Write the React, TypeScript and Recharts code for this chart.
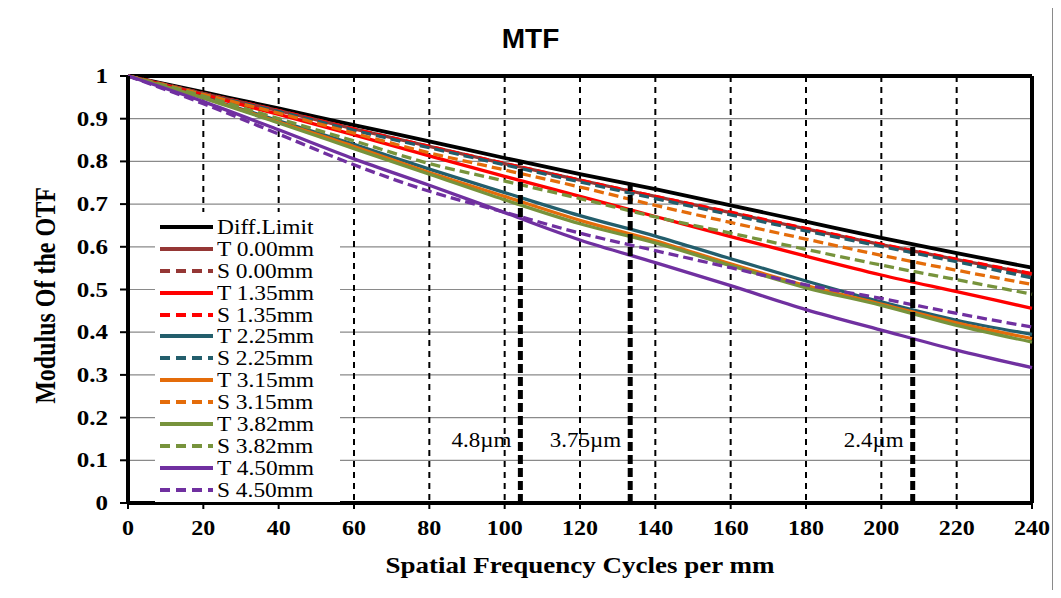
import React from 'react';
import {
  LineChart,
  Line,
  XAxis,
  YAxis,
  CartesianGrid,
  ReferenceLine,
  ReferenceDot,
  Legend,
} from 'recharts';

// ---- data ----
const frequency = [0, 20, 40, 60, 80, 100, 120, 140, 160, 180, 200, 220, 240];
const diffLimit = [1, 0.962, 0.924, 0.885, 0.847, 0.808, 0.770, 0.735, 0.697, 0.659, 0.621, 0.585, 0.551];
const t000 = [1, 0.959, 0.919, 0.876, 0.835, 0.795, 0.756, 0.718, 0.680, 0.642, 0.605, 0.570, 0.536];
const s000 = [1, 0.959, 0.918, 0.875, 0.834, 0.794, 0.755, 0.716, 0.678, 0.640, 0.603, 0.568, 0.533];
const t135 = [1, 0.956, 0.910, 0.862, 0.813, 0.765, 0.718, 0.671, 0.624, 0.578, 0.534, 0.495, 0.456];
const s135 = [1, 0.959, 0.919, 0.876, 0.835, 0.795, 0.756, 0.718, 0.681, 0.643, 0.606, 0.571, 0.537];
const t225 = [1, 0.950, 0.895, 0.840, 0.782, 0.727, 0.673, 0.625, 0.572, 0.520, 0.471, 0.428, 0.395];
const s225 = [1, 0.958, 0.917, 0.873, 0.832, 0.792, 0.752, 0.713, 0.675, 0.637, 0.601, 0.565, 0.527];
const t315 = [1, 0.949, 0.892, 0.835, 0.774, 0.718, 0.662, 0.614, 0.560, 0.509, 0.466, 0.422, 0.385];
const s315 = [1, 0.957, 0.913, 0.866, 0.820, 0.780, 0.740, 0.697, 0.657, 0.618, 0.580, 0.545, 0.512];
const t382 = [1, 0.948, 0.890, 0.830, 0.770, 0.710, 0.654, 0.609, 0.556, 0.504, 0.463, 0.416, 0.377];
const s382 = [1, 0.953, 0.900, 0.848, 0.795, 0.754, 0.713, 0.670, 0.632, 0.594, 0.557, 0.523, 0.489];
const t450 = [1, 0.940, 0.874, 0.806, 0.744, 0.680, 0.616, 0.563, 0.509, 0.453, 0.405, 0.358, 0.317];
const s450 = [1, 0.935, 0.864, 0.792, 0.730, 0.681, 0.632, 0.591, 0.551, 0.511, 0.479, 0.444, 0.412];

const seriesNames = [
  'Diff.Limit', 'T 0.00mm', 'S 0.00mm', 'T 1.35mm', 'S 1.35mm', 'T 2.25mm', 'S 2.25mm',
  'T 3.15mm', 'S 3.15mm', 'T 3.82mm', 'S 3.82mm', 'T 4.50mm', 'S 4.50mm',
];
const seriesValues = [diffLimit, t000, s000, t135, s135, t225, s225, t315, s315, t382, s382, t450, s450];

const xTicks = [0, 20, 40, 60, 80, 100, 120, 140, 160, 180, 200, 220, 240];
const yTicks = [0, 0.1, 0.2, 0.3, 0.4, 0.5, 0.6, 0.7, 0.8, 0.9, 1];

// Nyquist frequencies for pixel sizes
const nyquistLabels = ['4.8µm', '3.75µm', '2.4µm'];
const nyquistFreq = [104.17, 133.33, 208.33];
const nyquistTop = [0.801, 0.745, 0.607];
const nyquistLabelLevel = 0.147;

// ---- styles ----
const seriesColors = [
  '#000000', '#953735', '#953735', '#FF0000', '#FF0000', '#235E6C', '#235E6C',
  '#E46C0A', '#E46C0A', '#77933C', '#77933C', '#7030A0', '#7030A0',
];
const seriesDashed = [false, false, true, false, true, false, true, false, true, false, true, false, true];

const chartData = frequency.map((f, i) => {
  const row: Record<string, number> = { f };
  seriesNames.forEach((n, k) => {
    row[n] = seriesValues[k][i];
  });
  return row;
});

const SERIF = '"Liberation Serif", "Times New Roman", serif';

const XTick = (props: any) => {
  const { x, y, payload } = props;
  return (
    <g transform={`translate(${x},${y})`}>
      <text transform="scale(1.2,1)" textAnchor="middle" dy={24} fontFamily={SERIF} fontWeight="bold" fontSize={20} fill="#000">
        {payload.value}
      </text>
    </g>
  );
};

const YTick = (props: any) => {
  const { x, y, payload } = props;
  return (
    <g transform={`translate(${x},${y})`}>
      <text transform="scale(1.25,1)" textAnchor="end" dy={7} fontFamily={SERIF} fontWeight="bold" fontSize={20} fill="#000">
        {String(payload.value)}
      </text>
    </g>
  );
};

const XTitle = (props: any) => {
  const vb = props.viewBox || {};
  const cx = vb.x + vb.width / 2;
  const cy = vb.y + 70;
  return (
    <g transform={`translate(${cx},${cy})`}>
      <text transform="scale(1.2,1)" textAnchor="middle" fontFamily={SERIF} fontWeight="bold" fontSize={22.5} fill="#000">
        Spatial Frequency Cycles per mm
      </text>
    </g>
  );
};

const YTitle = (props: any) => {
  const vb = props.viewBox || {};
  const cx = vb.x + 17;
  const cy = vb.y + vb.height / 2 + 6;
  return (
    <g transform={`translate(${cx},${cy}) rotate(-90) scale(1,1.2)`}>
      <text textAnchor="middle" dominantBaseline="central" fontFamily={SERIF} fontWeight="bold" fontSize={24} fill="#000">
        Modulus Of the OTF
      </text>
    </g>
  );
};

const NyquistLabel = (text: string) => (props: any) => {
  const vb = props.viewBox || {};
  const x = vb.x + (vb.width || 0) / 2 - 9;
  const y = vb.y + (vb.height || 0) / 2;
  return (
    <g transform={`translate(${x},${y})`}>
      <text transform="scale(1.15,1)" textAnchor="end" dy={7} fontFamily={SERIF} fontSize={20} fill="#000">
        {text}
      </text>
    </g>
  );
};

const renderLegend = () => (
  <div style={{ background: '#fff', width: 185, height: 290, paddingTop: 4, boxSizing: 'border-box', fontFamily: SERIF, fontSize: 20, color: '#000' }}>
    {seriesNames.map((name, i) => (
      <div key={name} style={{ display: 'flex', alignItems: 'center', height: 21.9 }}>
        <svg width={62} height={10} style={{ flex: 'none' }}>
          <line x1={5} y1={5} x2={58} y2={5} stroke={seriesColors[i]} strokeWidth={4} strokeDasharray={seriesDashed[i] ? '10 6' : undefined} />
        </svg>
        <span style={{ display: 'inline-block', transform: 'scaleX(1.17)', transformOrigin: 'left center', whiteSpace: 'nowrap', lineHeight: '22px' }}>
          {name}
        </span>
      </div>
    ))}
  </div>
);

export default function App() {
  return (
    <div style={{ position: 'relative', width: 1061, height: 598, margin: -8, background: '#fff', overflow: 'hidden' }}>
      <div style={{ position: 'absolute', left: 6, top: 4, width: 1047, height: 591, border: '1px solid #8a8a8a', boxSizing: 'border-box' }} />
      <div style={{ position: 'absolute', left: 0, top: 22, width: 1061, textAlign: 'center', fontFamily: '"Liberation Sans", Arial, sans-serif', fontWeight: 'bold', fontSize: 28, lineHeight: '34px', color: '#000' }}>
        MTF
      </div>
      <LineChart width={1061} height={598} data={chartData} margin={{ top: 76, right: 29, bottom: 35, left: 28 }}>
        <CartesianGrid horizontal={true} vertical={false} stroke="#8a8a8a" strokeWidth={1.2} />
        <CartesianGrid horizontal={false} vertical={true} stroke="#000" strokeWidth={2} strokeDasharray="6 5" />
        <XAxis
          dataKey="f"
          type="number"
          domain={[0, 240]}
          ticks={xTicks}
          height={60}
          axisLine={{ stroke: '#000', strokeWidth: 4 }}
          tickLine={{ stroke: '#000', strokeWidth: 2 }}
          tickSize={6}
          tickMargin={2}
          tick={<XTick />}
          interval={0}
          label={XTitle}
        />
        <YAxis
          type="number"
          domain={[0, 1]}
          ticks={yTicks}
          width={100}
          axisLine={{ stroke: '#000', strokeWidth: 4 }}
          tickLine={{ stroke: '#000', strokeWidth: 2 }}
          tickSize={8}
          tickMargin={12}
          tick={<YTick />}
          interval={0}
          label={YTitle}
        />
        <ReferenceLine y={1} stroke="#000" strokeWidth={4} />
        <ReferenceLine x={240} stroke="#000" strokeWidth={4} />
        {seriesNames.map((name, i) => (
          <Line
            key={name}
            dataKey={name}
            type="monotone"
            stroke={seriesColors[i]}
            strokeWidth={i === 0 ? 3.8 : 3.3}
            strokeDasharray={seriesDashed[i] ? '10 5' : undefined}
            dot={false}
            activeDot={false}
            isAnimationActive={false}
          />
        ))}
        {nyquistFreq.map((f, i) => (
          <ReferenceLine
            key={`nq-${i}`}
            segment={[{ x: f, y: 0 }, { x: f, y: nyquistTop[i] }]}
            stroke="#000"
            strokeWidth={5}
            strokeDasharray="9 4"
          />
        ))}
        {nyquistFreq.map((f, i) => (
          <ReferenceDot
            key={`nql-${i}`}
            x={f}
            y={nyquistLabelLevel}
            r={0}
            fill="none"
            stroke="none"
            label={NyquistLabel(nyquistLabels[i])}
          />
        ))}
        <Legend
          layout="vertical"
          align="center"
          verticalAlign="middle"
          content={renderLegend}
          wrapperStyle={{ left: 155, top: 212, width: 185, height: 290 }}
        />
      </LineChart>
    </div>
  );
}
